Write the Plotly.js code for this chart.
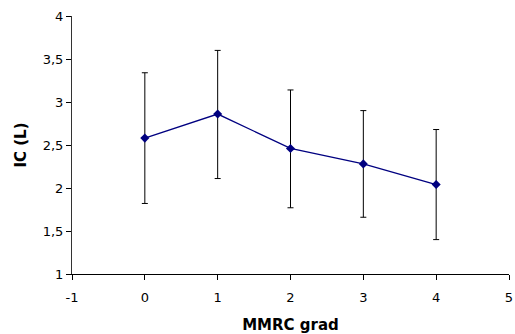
<!DOCTYPE html>
<html><head><meta charset="utf-8">
<script src="https://cdn.plot.ly/plotly-3.0.1.min.js"></script>
<style>html,body{margin:0;padding:0;background:#fff}#c{width:515px;height:334px}</style>
</head><body><div id="c"></div>
<script>
const grades = [0, 1, 2, 3, 4];
const icMean = [2.58, 2.86, 2.46, 2.28, 2.04];
const icErrUp = [0.76, 0.74, 0.68, 0.62, 0.64];
const icErrDown = [0.76, 0.75, 0.69, 0.62, 0.64];
const xTicks = [-1, 0, 1, 2, 3, 4, 5];
const yTicks = [1, 1.5, 2, 2.5, 3, 3.5, 4];

Plotly.newPlot('c', [{
  x: grades, y: icMean, type: 'scatter', mode: 'lines+markers',
  line: {color: '#000080', width: 1.3},
  marker: {symbol: 'diamond', size: 7, color: '#000080'},
  error_y: {type: 'data', symmetric: false, array: icErrUp, arrayminus: icErrDown,
            color: '#000000', thickness: 1, width: 3}
}], {
  width: 515, height: 334,
  margin: {l: 72, r: 6, t: 16, b: 60},
  paper_bgcolor: '#fff', plot_bgcolor: '#fff',
  showlegend: false,
  font: {family: 'DejaVu Sans, sans-serif', size: 13, color: '#000'},
  xaxis: {range: [-1, 5], tickvals: xTicks, ticktext: xTicks.map(v => String(v)),
          ticks: 'outside', ticklen: 5, tickcolor: '#000', ticklabelstandoff: 6,
          showline: true, linecolor: '#000', linewidth: 1, showgrid: false, zeroline: false,
          title: {text: '<b>MMRC grad</b>', font: {size: 15}, standoff: 15}},
  yaxis: {range: [1, 4], tickvals: yTicks, ticktext: yTicks.map(v => String(v).replace('.', ',')),
          ticks: 'outside', ticklen: 5, tickcolor: '#000',
          showline: true, linecolor: '#333', linewidth: 1, showgrid: false, zeroline: false,
          title: {text: '<b>IC (L)</b>', font: {size: 15}, standoff: 12}}
}, {displayModeBar: false, staticPlot: true});
</script></body></html>
